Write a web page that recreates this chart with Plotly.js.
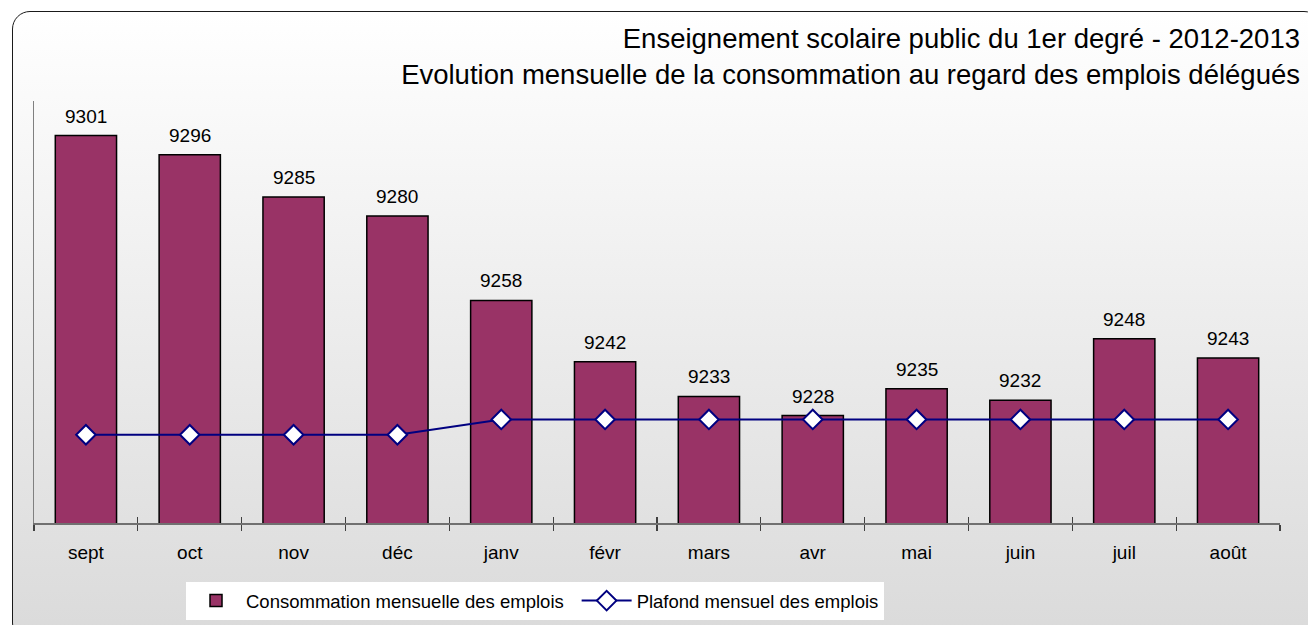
<!DOCTYPE html>
<html>
<head>
<meta charset="utf-8">
<script src="https://cdn.plot.ly/plotly-3.0.1.min.js"></script>
<style>
  html, body { margin: 0; padding: 0; width: 1308px; height: 625px; overflow: hidden; background: #ffffff; }
  #card { position: absolute; left: 12px; top: 11px; width: 1310px; height: 630px;
          border: 1.5px solid #1a1a1a; border-radius: 18px; box-sizing: border-box;
          background: linear-gradient(to bottom, #ffffff 0%, #f0f0f0 40%, #dadada 100%); }
  #chart { position: absolute; left: 0; top: 0; width: 1308px; height: 625px; }
</style>
</head>
<body>
<div id="card"></div>
<div id="chart"></div>
<script>
// ---- data ----
const months = ["sept", "oct", "nov", "déc", "janv", "févr", "mars", "avr", "mai", "juin", "juil", "août"];
const consommation = [9301, 9296, 9285, 9280, 9258, 9242, 9233, 9228, 9235, 9232, 9248, 9243];
const plafond = [9223, 9223, 9223, 9223, 9227, 9227, 9227, 9227, 9227, 9227, 9227, 9227];
const seriesNames = ["Consommation mensuelle des emplois", "Plafond mensuel des emplois"];
const titleLines = ["Enseignement scolaire public du 1er degré - 2012-2013",
                    "Evolution mensuelle de la consommation au regard des emplois délégués"];

const FONT = "Liberation Sans, Arial, Helvetica, sans-serif";

const bars = {
  type: "bar",
  name: seriesNames[0],
  x: months,
  y: consommation,
  legend: "legend",
  marker: { color: "#993366", line: { color: "#000000", width: 1.5 } },
  hoverinfo: "x+y"
};

const line = {
  type: "scatter",
  mode: "lines+markers",
  name: seriesNames[1],
  x: months,
  y: plafond,
  legend: "legend2",
  line: { color: "#000080", width: 2 },
  marker: { symbol: "diamond", size: 15, color: "#ffffff", line: { color: "#000080", width: 2 } }
};

// ticks crossing the axis: a second overlay axis draws the inner half
const tickHelper = {
  type: "scatter", mode: "markers", x: months, y: plafond, xaxis: "x2",
  marker: { opacity: 0 }, showlegend: false, hoverinfo: "skip"
};

const annotations = months.map((m, i) => ({
  x: m, y: consommation[i], text: String(consommation[i]),
  xref: "x", yref: "y", showarrow: false, yanchor: "bottom", yshift: 7,
  font: { family: FONT, size: 19, color: "#000000" }
}));

const legendCommon = {
  orientation: "h", xanchor: "left", y: -0.140, yanchor: "top",
  bgcolor: "#ffffff", borderwidth: 0, itemwidth: 50,
  font: { family: FONT, size: 18.5, color: "#000000" }
};

const layout = {
  width: 1308, height: 625,
  margin: { l: 34, r: 28, t: 101, b: 102, autoexpand: false },
  paper_bgcolor: "rgba(0,0,0,0)",
  plot_bgcolor: "rgba(0,0,0,0)",
  font: { family: FONT, color: "#000000" },
  title: {
    text: titleLines.join("<br>"),
    xref: "container", x: 1300 / 1308, xanchor: "right",
    yref: "container", y: 1 - 48 / 625, yanchor: "top",
    font: { family: FONT, size: 27.5, color: "#000000" }
  },
  bargap: 0.41,
  showlegend: true,
  legend: Object.assign({}, legendCommon, { x: 0.122, entrywidth: 327 }),
  legend2: Object.assign({}, legendCommon, { x: 0.4355 }),
  xaxis: {
    type: "category",
    categoryorder: "array", categoryarray: months,
    range: [-0.5, 11.5],
    showline: true, linecolor: "#707070", linewidth: 1.5,
    ticks: "outside", ticklen: 6, tickwidth: 1.2, tickcolor: "#404040",
    tickson: "boundaries",
    showgrid: false, zeroline: false,
    tickfont: { family: FONT, size: 19, color: "#000000" },
    ticklabelstandoff: 12
  },
  xaxis2: {
    type: "category", overlaying: "x", anchor: "y", side: "bottom",
    categoryorder: "array", categoryarray: months,
    range: [-0.5, 11.5],
    showline: false, ticks: "inside", ticklen: 6, tickwidth: 1.2, tickcolor: "#404040",
    tickson: "boundaries", showticklabels: false, showgrid: false, zeroline: false
  },
  yaxis: {
    range: [9200, 9310],
    showline: true, linecolor: "#808080", linewidth: 1.5,
    showticklabels: false, ticks: "", showgrid: false, zeroline: false
  },
  annotations: annotations
};

Plotly.newPlot("chart", [bars, line, tickHelper], layout, { displayModeBar: false, staticPlot: true });
</script>
</body>
</html>
